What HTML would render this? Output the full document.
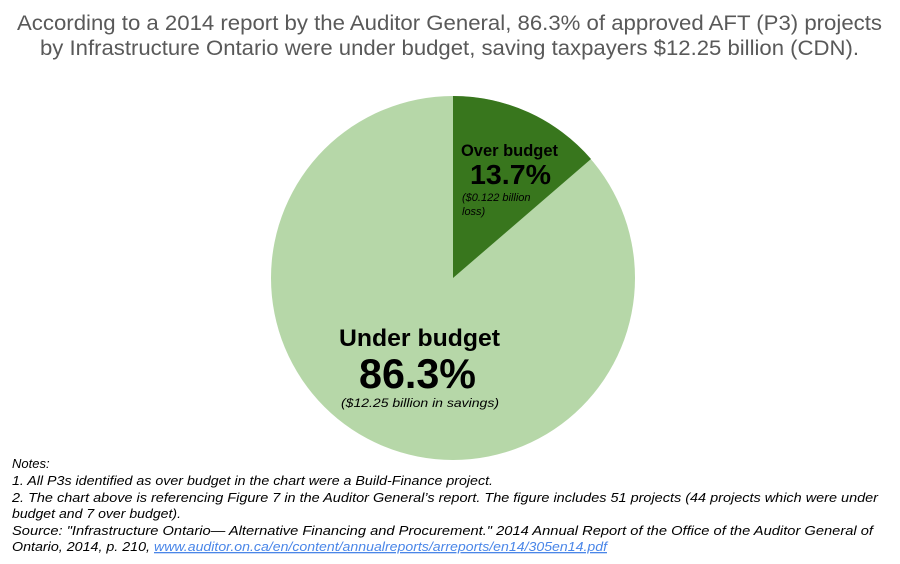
<!DOCTYPE html>
<html><head><style>
body{margin:0;width:900px;height:564px;background:#fff;overflow:hidden;font-family:"Liberation Sans",Arial,sans-serif;}
svg{position:absolute;left:0;top:0}
</style></head><body>
<svg width="900" height="564" viewBox="0 0 900 564">
<text x="17" y="30" textLength="865" lengthAdjust="spacingAndGlyphs" font-size="21" fill="#595959">According to a 2014 report by the Auditor General, 86.3% of approved AFT (P3) projects</text>
<text x="40" y="55" textLength="819" lengthAdjust="spacingAndGlyphs" font-size="21" fill="#595959">by Infrastructure Ontario were under budget, saving taxpayers $12.25 billion (CDN).</text>
<circle cx="453" cy="278" r="182" fill="#b6d7a8"/>
<path d="M453,278 L453,96 A182,182 0 0 1 591,159 Z" fill="#38761d"/>
<text x="461" y="156" textLength="97" lengthAdjust="spacingAndGlyphs" font-size="17" font-weight="bold" fill="#000">Over budget</text>
<text x="470" y="184" textLength="81" lengthAdjust="spacingAndGlyphs" font-size="28" font-weight="bold" fill="#000">13.7%</text>
<text x="462" y="201" font-size="11" font-style="italic" fill="#000">($0.122 billion</text>
<text x="462" y="215" font-size="11" font-style="italic" fill="#000">loss)</text>
<text x="339" y="346" textLength="161" lengthAdjust="spacingAndGlyphs" font-size="24" font-weight="bold" fill="#000">Under budget</text>
<text x="359" y="388" textLength="117" lengthAdjust="spacingAndGlyphs" font-size="42" font-weight="bold" fill="#000">86.3%</text>
<text x="341" y="407" textLength="158" lengthAdjust="spacingAndGlyphs" font-size="12" font-style="italic" fill="#000">($12.25 billion in savings)</text>
<g font-size="13" font-style="italic" fill="#000">
<text x="12" y="468">Notes:</text>
<text x="12" y="485" textLength="481" lengthAdjust="spacingAndGlyphs">1. All P3s identified as over budget in the chart were a Build-Finance project.</text>
<text x="12" y="502" textLength="866" lengthAdjust="spacingAndGlyphs">2. The chart above is referencing Figure 7 in the Auditor General’s report. The figure includes 51 projects (44 projects which were under</text>
<text x="12" y="518" textLength="169" lengthAdjust="spacingAndGlyphs">budget and 7 over budget).</text>
<text x="12" y="535" textLength="861" lengthAdjust="spacingAndGlyphs">Source: "Infrastructure Ontario— Alternative Financing and Procurement." 2014 Annual Report of the Office of the Auditor General of</text>
<text x="12" y="551" textLength="138" lengthAdjust="spacingAndGlyphs">Ontario, 2014, p. 210,</text>
<text x="154" y="551" textLength="453" lengthAdjust="spacingAndGlyphs" fill="#4a86e8" text-decoration="underline">www.auditor.on.ca/en/content/annualreports/arreports/en14/305en14.pdf</text>
</g>
</svg>
</body></html>
